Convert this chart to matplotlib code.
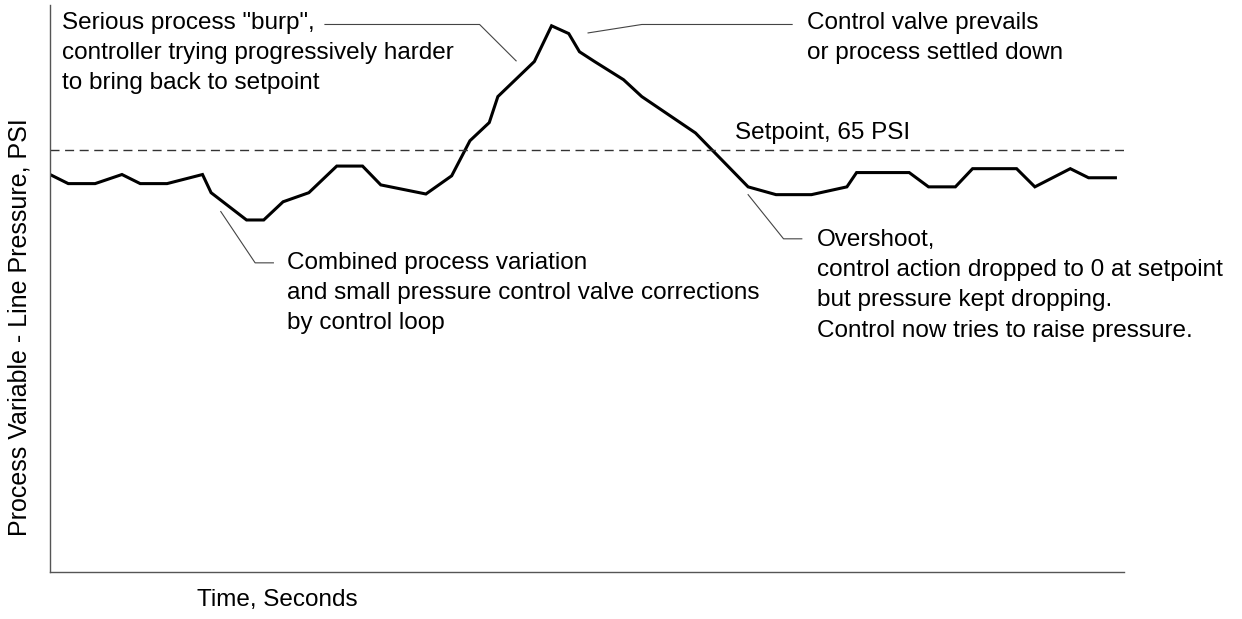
import matplotlib
matplotlib.use("Agg")
import matplotlib.pyplot as plt

plt.rcParams['font.family'] = ['Liberation Sans', 'DejaVu Sans']

# Process variable trace (time in s, line pressure in PSI)
time_s = [0.0, 1.7, 4.2, 6.7, 8.4, 10.9, 14.2, 15.0, 18.3, 19.9, 21.7, 24.1,
          26.7, 29.1, 30.8, 35.0, 37.4, 39.1, 40.9, 41.7, 45.1, 46.7, 48.3,
          49.3, 50.7, 53.4, 55.1, 60.1, 65.0, 67.6, 70.9, 74.2, 75.1, 80.0,
          81.8, 84.3, 85.9, 90.0, 91.7, 95.0, 96.7, 99.2]
pressure_psi = [61.2, 59.8, 59.8, 61.2, 59.8, 59.8, 61.2, 58.4, 54.2, 54.2,
                57.0, 58.4, 62.5, 62.5, 59.6, 58.2, 61.0, 66.4, 69.2, 73.2,
                78.6, 84.1, 82.9, 80.1, 78.6, 75.8, 73.2, 67.6, 59.3, 58.1,
                58.1, 59.3, 61.5, 61.5, 59.3, 59.3, 62.1, 62.1, 59.3, 62.1,
                60.7, 60.7]
setpoint_psi = 65

FS = 17.5
LS = 1.48

# callouts: text, top-left of the text (t, psi), leader polyline
notes = [
    ('Serious process "burp",\ncontroller trying progressively harder\nto bring back to setpoint',
     (1.1, 86.2), [(25.6, 84.3), (40.0, 84.3), (43.4, 78.7)]),
    ('Control valve prevails\nor process settled down',
     (70.5, 86.2), [(50.1, 83.0), (55.1, 84.3), (69.1, 84.3)]),
    ('Combined process variation\nand small pressure control valve corrections\nby control loop',
     (22.1, 49.25), [(15.9, 55.5), (19.1, 47.6), (20.8, 47.6)]),
    ('Overshoot,\ncontrol action dropped to 0 at setpoint\nbut pressure kept dropping.\nControl now tries to raise pressure.',
     (71.4, 52.8), [(65.0, 58.1), (68.3, 51.3), (70.0, 51.3)]),
]

fig = plt.figure(figsize=(12.42, 6.19), dpi=100)
ax = fig.add_axes([50 / 1242, 47 / 619, 1074 / 1242, 567 / 619])
ax.set_xlim(0, 100)
ax.set_ylim(0, 87.3)

ax.plot(time_s, pressure_psi, color='black', lw=2.2, solid_joinstyle='miter')
ax.axhline(setpoint_psi, color='#333333', lw=1, dashes=(6.5, 4))
ax.text(63.8, 66.6, 'Setpoint, 65 PSI', fontsize=FS, va='baseline')

for txt, (tx, ty), leader in notes:
    xs = [p[0] for p in leader]
    ys = [p[1] for p in leader]
    ax.plot(xs, ys, color='#444444', lw=0.8, clip_on=False)
    ax.text(tx, ty, txt, fontsize=FS, va='top', ha='left', linespacing=LS)

for side in ['top', 'right']:
    ax.spines[side].set_visible(False)
for side in ['left', 'bottom']:
    ax.spines[side].set_color('#555555')
    ax.spines[side].set_linewidth(1)
ax.set_xticks([])
ax.set_yticks([])

fig.text(197 / 1242, 1 - 606 / 619, 'Time, Seconds', fontsize=FS, va='baseline')
fig.text(20 / 1242, 1 - 327 / 619, 'Process Variable - Line Pressure, PSI',
         fontsize=18, rotation=90, va='center', ha='center')

fig.savefig('out.png', dpi=100)
